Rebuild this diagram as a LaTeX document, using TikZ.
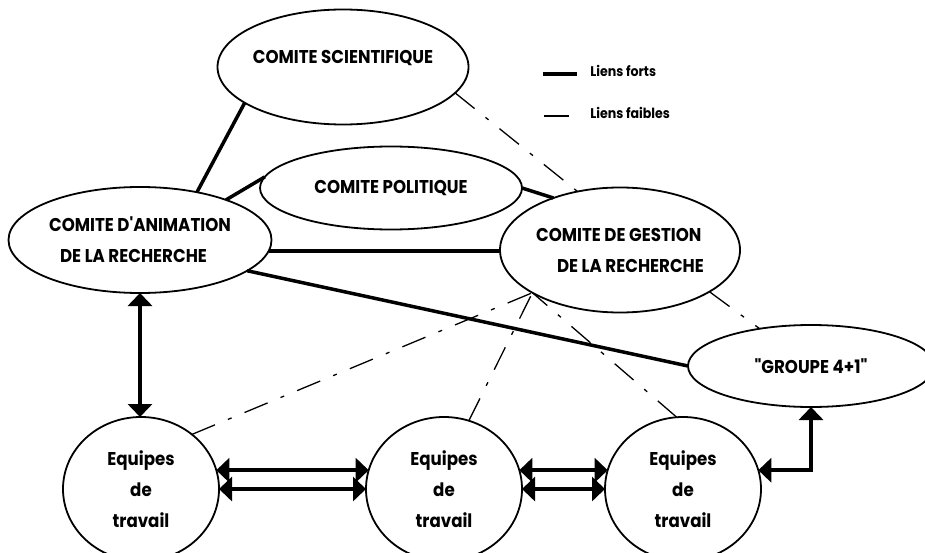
\documentclass[tikz,border=0pt]{standalone}
\usepackage{fontspec}
\newfontfamily\groupfont{Poppins}[FakeStretch=0.9]
\usepackage{tikz}
\usetikzlibrary{shapes.geometric, arrows.meta, positioning}

\begin{document}
\begin{tikzpicture}[x=1pt, y=-1pt, outer sep=0pt]

\tikzstyle{ell}=[ellipse,draw,line width=1.8pt,inner sep=0pt,align=center,font=\groupfont\bfseries\fontsize{18.5}{31}\selectfont]
\tikzstyle{equipe}=[ell,minimum width=156pt,minimum height=144pt]
\tikzstyle{fort}=[line width=3.5pt]
\tikzstyle{faible}=[line width=1.3pt,dash pattern=on 25pt off 14pt on 4pt off 14pt]
\tikzstyle{lien}=[fort,<->,>={Triangle[length=13pt,width=24pt]}]
\tikzstyle{legende}=[anchor=west,font=\groupfont\bfseries\fontsize{14}{16}\selectfont]

\useasboundingbox (0,0) rectangle (925,553);

\node[ell,minimum width=251pt,minimum height=115pt,label={[font=\groupfont\bfseries\fontsize{18.5}{20}\selectfont,yshift=9pt]center:COMITE SCIENTIFIQUE}] (scientifique) at (343,67) {};
\node[ell,minimum width=262pt,minimum height=83pt] (politique) at (391,188) {COMITE POLITIQUE};
\node[ell,minimum width=263pt,minimum height=106pt,align=left] (animation) at (140,240) {COMITE D'ANIMATION\\\hspace*{11pt}DE LA RECHERCHE};
\node[ell,minimum width=240pt,minimum height=125pt,align=left] (gestion) at (620,250) {COMITE DE GESTION\\\hspace*{21pt}DE LA RECHERCHE};
\node[ell,minimum width=246pt,minimum height=82pt] (groupe) at (811,366) {"GROUPE 4+1"};
\node[equipe] (equipes1) at (141,489) {Equipes\\de\\travail};
\node[equipe] (equipes2) [right = 147pt of equipes1] {Equipes\\de\\travail};
\node[equipe] (equipes3) [right = 83pt of equipes2] {Equipes\\de\\travail};

\node[legende] (forts) at (587,71) {Liens forts};
\node[legende] (faibles) at (587,113) {Liens faibles};
\draw[fort] ([xshift=-44pt,yshift=-3pt]forts.west) -- ([xshift=-10pt,yshift=-3pt]forts.west);
\draw[faible] ([xshift=-43pt,yshift=-3pt]faibles.west) -- ([xshift=-18pt,yshift=-3pt]faibles.west);

\draw[fort] (scientifique.200) -- (animation.40);
\draw[fort] (animation.25) -- (politique.175);
\draw[fort] (politique.east) -- (gestion.142);
\draw[fort] (animation.-5) -- (animation.-5 -| gestion.west);
\draw[fort] (animation.-16) -- (groupe.west);

\draw[faible] (scientifique.-13) -- (gestion.126);
\draw[faible] (equipes1.47) -- (gestion.206);
\draw[faible] (equipes2.70) -- (gestion.206);
\draw[faible] (equipes3.95) -- (gestion.206);
\draw[faible] (gestion.-25) -- (groupe.144);

\draw[lien] (animation.south) -- (animation.south |- equipes1.north);
\draw[lien] (equipes1.14) -- (equipes2.166);
\draw[lien] (equipes1.east) -- (equipes2.west);
\draw[lien] (equipes2.14) -- (equipes3.166);
\draw[lien] (equipes2.east) -- (equipes3.west);
\draw[lien] (equipes3.14) -| (groupe.south);
\end{tikzpicture}
\end{document}
